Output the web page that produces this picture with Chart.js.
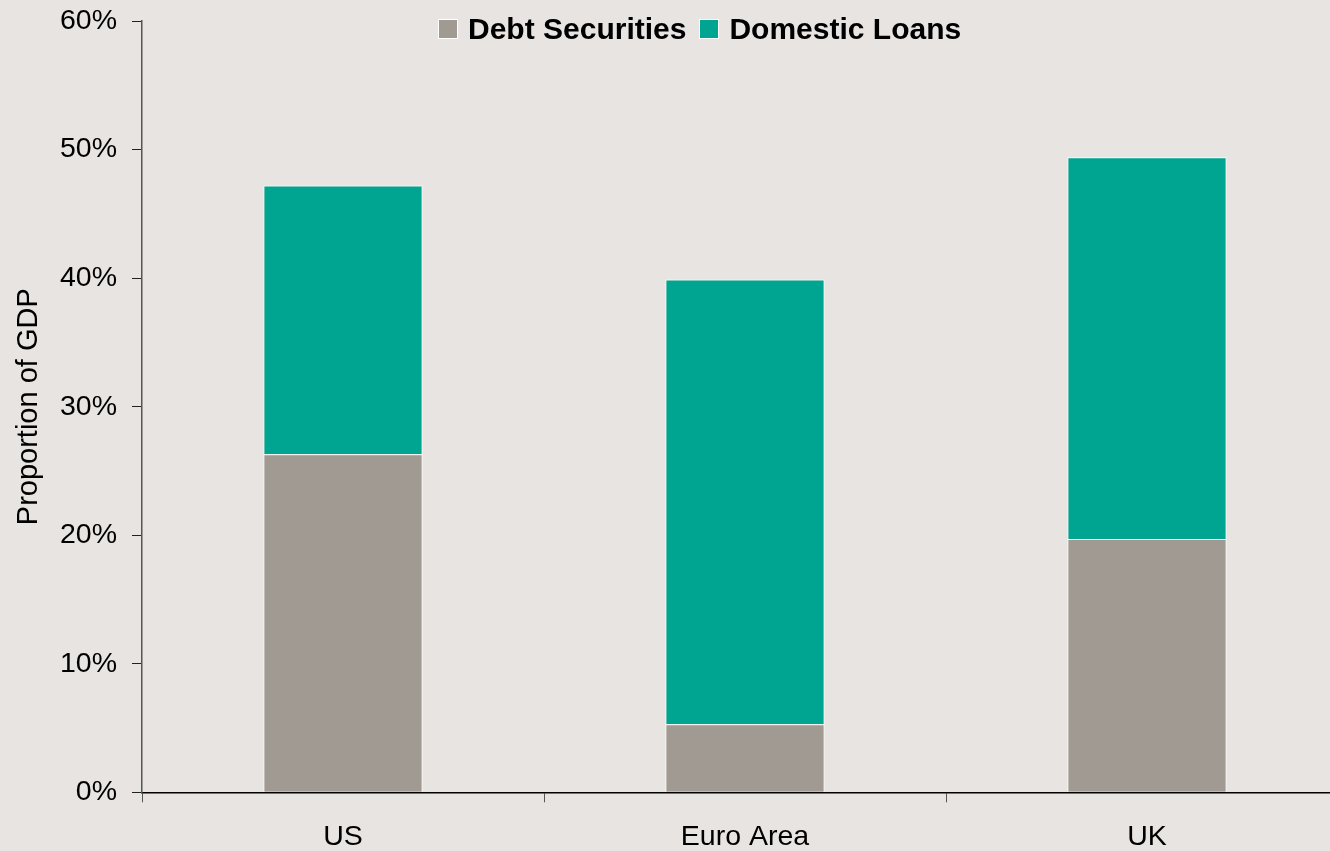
<!DOCTYPE html>
<html>
<head>
<meta charset="utf-8">
<title>Debt Securities and Domestic Loans</title>
<script src="https://cdn.jsdelivr.net/npm/chart.js@4"></script>
<style>
  html, body { margin: 0; padding: 0; background: #e8e4e1; overflow: hidden; }
  #wrap { position: relative; width: 1348px; height: 851px; overflow: hidden; }
  #chartBox { position: absolute; left: 0; top: -11px; width: 1348px; height: 862px; }
  #legend {
    position: absolute; left: 438px; top: 9px; height: 39px;
    display: flex; align-items: center;
    font: bold 30px "Liberation Sans", Arial, sans-serif; color: #000;
  }
  #legend .box { width: 18px; height: 18px; border: 1px solid #fff; margin-right: 10px; }
  #legend .item { display: flex; align-items: center; margin-right: 13px; }
</style>
</head>
<body>
<div id="wrap">
  <div id="chartBox"><canvas id="myChart"></canvas></div>
  <div id="legend"></div>
</div>
<script>
const categories = ['US', 'Euro Area', 'UK'];
const debtSecurities = [26.3, 5.3, 19.7];
const domesticLoans = [20.9, 34.6, 29.7];
const yTicks = [0, 10, 20, 30, 40, 50, 60];

const seriesNames = ['Debt Securities', 'Domestic Loans'];
const seriesColors = ['#a09a93', '#00a591'];

function buildLegend() {
    const legend = document.getElementById('legend');
    seriesNames.forEach(function (name, i) {
        const item = document.createElement('div');
        item.className = 'item';
        const box = document.createElement('span');
        box.className = 'box';
        box.style.background = seriesColors[i];
        item.appendChild(box);
        item.appendChild(document.createTextNode(name));
        legend.appendChild(item);
    });
}

function initializeChart() {
    const ctx = document.getElementById('myChart').getContext('2d');
    Chart.defaults.font.family = '"Liberation Sans", Arial, sans-serif';
    Chart.defaults.color = '#000';

    new Chart(ctx, {
        type: 'bar',
        data: {
            labels: categories,
            datasets: [{
                label: seriesNames[0],
                data: debtSecurities,
                backgroundColor: seriesColors[0],
                borderColor: '#ffffff',
                borderWidth: 1,
                categoryPercentage: 1,
                barPercentage: 0.396
            }, {
                label: seriesNames[1],
                data: domesticLoans,
                backgroundColor: seriesColors[1],
                borderColor: '#ffffff',
                borderWidth: 1,
                categoryPercentage: 1,
                barPercentage: 0.396
            }]
        },
        options: {
            responsive: true,
            maintainAspectRatio: false,
            animation: false,
            layout: { padding: { top: 9, right: 0, bottom: 0, left: 0 } },
            plugins: {
                legend: { display: false },
                tooltip: { enabled: false }
            },
            scales: {
                x: {
                    stacked: true,
                    grid: {
                        drawOnChartArea: false,
                        tickLength: 10,
                        color: '#555'
                    },
                    border: { color: '#000', width: 1.5 },
                    ticks: { font: { size: 28.5 }, padding: 18 },
                    afterFit: function (scale) { scale.height = 58.7; }
                },
                y: {
                    stacked: true,
                    min: yTicks[0],
                    max: yTicks[yTicks.length - 1],
                    afterBuildTicks: function (scale) {
                        scale.ticks = yTicks.map(function (v) { return { value: v }; });
                    },
                    grid: {
                        drawOnChartArea: false,
                        tickLength: 10,
                        color: '#222'
                    },
                    border: { color: '#555', width: 1.5 },
                    ticks: {
                        font: { size: 28.5 },
                        padding: 15,
                        callback: function (v) { return v + '%'; }
                    },
                    title: {
                        display: true,
                        text: 'Proportion of GDP',
                        font: { size: 29 },
                        padding: { top: 12, bottom: 0 }
                    },
                    afterFit: function (scale) { scale.width = 142; }
                }
            }
        }
    });
}

document.addEventListener('DOMContentLoaded', function () {
    buildLegend();
    initializeChart();
});
</script>
</body>
</html>
